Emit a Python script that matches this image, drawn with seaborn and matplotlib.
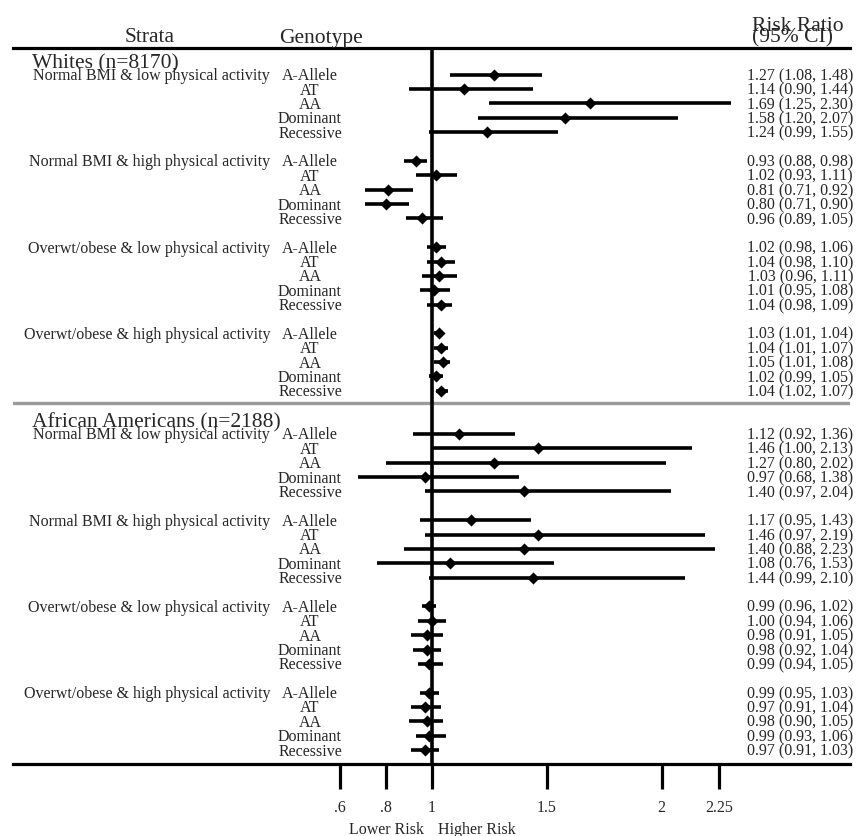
import matplotlib
matplotlib.use("Agg")
import matplotlib.pyplot as plt
import matplotlib.transforms as mtransforms
import pandas as pd
import seaborn as sns

sections = ["Whites (n=8170)", "African Americans (n=2188)"]
strata = ["Normal BMI & low physical activity",
          "Normal BMI & high physical activity",
          "Overwt/obese & low physical activity",
          "Overwt/obese & high physical activity"]
genotypes = ["A-Allele", "AT", "AA", "Dominant", "Recessive"]

# risk ratio and 95% CI, strata in order, 5 genotypes per stratum
whites_rr = [1.27, 1.14, 1.69, 1.58, 1.24,
             0.93, 1.02, 0.81, 0.80, 0.96,
             1.02, 1.04, 1.03, 1.01, 1.04,
             1.03, 1.04, 1.05, 1.02, 1.04]
whites_lo = [1.08, 0.90, 1.25, 1.20, 0.99,
             0.88, 0.93, 0.71, 0.71, 0.89,
             0.98, 0.98, 0.96, 0.95, 0.98,
             1.01, 1.01, 1.01, 0.99, 1.02]
whites_hi = [1.48, 1.44, 2.30, 2.07, 1.55,
             0.98, 1.11, 0.92, 0.90, 1.05,
             1.06, 1.10, 1.11, 1.08, 1.09,
             1.04, 1.07, 1.08, 1.05, 1.07]

afam_rr = [1.12, 1.46, 1.27, 0.97, 1.40,
           1.17, 1.46, 1.40, 1.08, 1.44,
           0.99, 1.00, 0.98, 0.98, 0.99,
           0.99, 0.97, 0.98, 0.99, 0.97]
afam_lo = [0.92, 1.00, 0.80, 0.68, 0.97,
           0.95, 0.97, 0.88, 0.76, 0.99,
           0.96, 0.94, 0.91, 0.92, 0.94,
           0.95, 0.91, 0.90, 0.93, 0.91]
afam_hi = [1.36, 2.13, 2.02, 1.38, 2.04,
           1.43, 2.19, 2.23, 1.53, 2.10,
           1.02, 1.06, 1.05, 1.04, 1.05,
           1.03, 1.04, 1.05, 1.06, 1.03]

tick_vals = [0.6, 0.8, 1, 1.5, 2, 2.25]
tick_labels = [".6", ".8", "1", "1.5", "2", "2.25"]

# one row per estimate, y in pixel-like units (top = 0)
rows = []
for s, (rr, lo, hi) in enumerate([(whites_rr, whites_lo, whites_hi),
                                  (afam_rr, afam_lo, afam_hi)]):
    for k in range(len(rr)):
        g, i = divmod(k, 5)
        idx = s * 25 + g * 6 + i
        rows.append(dict(section=s, stratum=g, geno=genotypes[i],
                         rr=rr[k], lo=lo[k], hi=hi[k], y=75.7 + idx * 14.37))
df = pd.DataFrame(rows)

sns.set_style("white")
plt.rcParams["font.family"] = ["Liberation Serif", "DejaVu Serif"]

W, H = 856, 837
fig = plt.figure(figsize=(W / 100, H / 100), dpi=100)
ax = fig.add_axes([13 / W, 1 - 765 / H, (850 - 13) / W, (765 - 49.3) / H])
ax.set_xlim(1 + (13 - 431.7) / 230, 1 + (850 - 431.7) / 230)
ax.set_ylim(765, 49.3)

# CI lines and point estimates
ax.hlines(df["y"], df["lo"], df["hi"], color="black", lw=2.6, zorder=3)
sns.scatterplot(data=df, x="rr", y="y", marker="D", s=38, color="black",
                linewidth=0, ax=ax, zorder=4, legend=False)

ax.axvline(1, color="black", lw=2.6, zorder=2)
ax.axhline(404, color="#9a9a9a", lw=2.4, zorder=1)

for side in ["left", "right"]:
    ax.spines[side].set_visible(False)
for side in ["top", "bottom"]:
    ax.spines[side].set_linewidth(2.3)
    ax.spines[side].set_color("black")

ax.set_yticks([])
ax.set_xticks(tick_vals, tick_labels)
ax.tick_params(axis="x", bottom=True, direction="out", length=18, width=2.3,
               pad=7, labelsize=11.5, color="black")
ax.set_xlabel("")
ax.set_ylabel("")

tr = mtransforms.blended_transform_factory(fig.transFigure, ax.transData)

def put(px, y, s, size, ha="left"):
    ax.text(px / W, y, s, transform=tr, fontsize=size, ha=ha, va="baseline",
            clip_on=False)

# column headers
put(150, 42.5, "Strata", 15.5, "center")
put(321, 42.5, "Genotype", 15.5, "center")
put(752, 31, "Risk Ratio", 15.5)
put(752, 42, "(95% CI)", 15.5)

# section headers
first_y = df.groupby("section")["y"].min()
for s, name in enumerate(sections):
    put(32, first_y[s] - 7, name, 15.5)

# strata, genotype and RR labels
for (s, g), sub in df.groupby(["section", "stratum"]):
    put(270, sub["y"].iloc[0] + 4.5, strata[g], 11.5, "right")
for _, r in df.iterrows():
    put(310, r["y"] + 4.5, r["geno"], 11.5, "center")
    put(853, r["y"] + 4.5, f"{r['rr']:.2f} ({r['lo']:.2f}, {r['hi']:.2f})",
        11.5, "right")

put(424, 834, "Lower Risk", 11.5, "right")
put(438, 834, "Higher Risk", 11.5)

fig.savefig("out.png", dpi=100)
